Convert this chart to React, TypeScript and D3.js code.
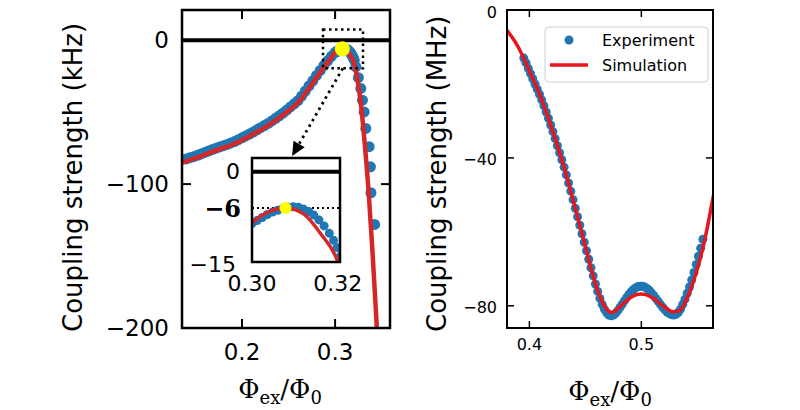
import React from 'react';
import * as d3 from 'd3';

// ---------- Left panel (kHz) ----------
const leftSimPhi = [0.136, 0.15, 0.17, 0.19, 0.21, 0.23, 0.25, 0.26, 0.27, 0.28, 0.29, 0.295, 0.30, 0.304, 0.308, 0.312, 0.316, 0.32, 0.324, 0.328, 0.332, 0.336, 0.340, 0.344, 0.347];
const leftSimG = [-85, -82, -77, -72.5, -66, -58.5, -49, -43.5, -35, -26, -17, -13, -8.5, -6.6, -6, -7, -10.3, -15, -27, -46, -73, -105, -145, -190, -225];

const leftExpPhi = [0.140, 0.144, 0.148, 0.152, 0.156, 0.160, 0.164, 0.168, 0.172, 0.176, 0.180, 0.184, 0.188, 0.192, 0.196, 0.200, 0.204, 0.208, 0.212, 0.216, 0.220, 0.224, 0.228, 0.232, 0.236, 0.240, 0.244, 0.248, 0.252, 0.256, 0.260, 0.264, 0.268, 0.272, 0.276, 0.280, 0.284, 0.288, 0.292, 0.296,
  0.3000, 0.3012, 0.3024, 0.3036, 0.3048, 0.3060, 0.3072, 0.3084, 0.3096, 0.3108, 0.3120, 0.3132, 0.3144, 0.3156, 0.3168, 0.3180, 0.3190, 0.3198, 0.3206,
  0.3223, 0.3250, 0.3276, 0.3294, 0.3312, 0.3330, 0.3366, 0.3380, 0.3385, 0.3425];
const leftExpG = [-82.5, -81.6, -80.9, -80.0, -79.0, -78.0, -77.0, -76.0, -75.0, -74.2, -73.3, -72.4, -71.4, -70.4, -69.1, -67.8, -66.5, -65.2, -63.8, -62.3, -60.8, -59.3, -57.8, -56.1, -54.3, -52.5, -50.6, -48.6, -46.4, -44.2, -42.0, -38.8, -35.3, -31.8, -28.2, -24.5, -21.0, -17.5, -14.3, -11.2,
  -8.6, -8.1, -7.6, -7.1, -6.7, -6.4, -6.1, -5.9, -5.8, -5.9, -6.2, -6.6, -7.2, -8.0, -9.0, -10.2, -11.4, -12.6, -14.0,
  -18.5, -26.0, -33.5, -41.7, -49.8, -61.3, -74.0, -88.0, -106.0, -128.0];

const peakPhi = [0.3078];
const peakG = [-6];
const zoomBoxPhi = [0.287, 0.330];
const zoomBoxG = [7.5, -19.5];
const arrowPhi = [0.3083, 0.2538];
const arrowG = [-19.5, -80.5];

const leftXTicks = [0.2, 0.3];
const leftYTicks = [0, -100, -200];
const insetXTicks = [0.30, 0.32];
const insetYTicks = [0, -6, -15];

// ---------- Right panel (MHz) ----------
const rightSimPhi = [0.380, 0.390, 0.400, 0.410, 0.420, 0.430, 0.440, 0.450, 0.460, 0.468, 0.474, 0.480, 0.490, 0.500, 0.510, 0.520, 0.528, 0.534, 0.540, 0.548, 0.556, 0.5645];
const rightSimG = [-5.5, -10, -16.5, -23.5, -32, -41.5, -52.5, -64, -75, -80.5, -81.8, -80.5, -77.8, -76.8, -77.8, -80.2, -81.6, -81.3, -78.5, -72, -63, -50];

const rightExpPhi = [0.395, 0.397, 0.399, 0.401, 0.403, 0.405, 0.407, 0.409, 0.411, 0.413, 0.415, 0.417, 0.419, 0.421, 0.423, 0.425, 0.427, 0.429, 0.431, 0.433, 0.435, 0.437, 0.439, 0.441, 0.443, 0.445, 0.447, 0.449, 0.451, 0.453, 0.455, 0.457, 0.459, 0.461, 0.463, 0.465, 0.467, 0.469, 0.471, 0.473, 0.475, 0.477, 0.479, 0.481, 0.483, 0.485, 0.487, 0.489, 0.491, 0.493, 0.495, 0.497, 0.499, 0.501, 0.503, 0.505, 0.507, 0.509, 0.511, 0.513, 0.515, 0.517, 0.519, 0.521, 0.523, 0.525, 0.527, 0.529, 0.531, 0.533, 0.535, 0.537, 0.539, 0.541, 0.543, 0.545, 0.547, 0.549, 0.551, 0.553, 0.555];
const rightExpG = [-13.0, -14.3, -15.8, -17.2, -18.6, -20.0, -21.4, -22.8, -24.3, -25.9, -27.6, -29.3, -31.1, -32.9, -34.8, -36.7, -38.6, -40.5, -42.5, -44.6, -46.8, -49.0, -51.3, -53.6, -55.9, -58.2, -60.5, -62.8, -65.1, -67.4, -69.7, -71.9, -74.1, -76.1, -78.0, -79.6, -80.9, -81.9, -82.5, -82.7, -82.5, -82.0, -81.3, -80.4, -79.5, -78.6, -77.7, -76.9, -76.2, -75.6, -75.1, -74.8, -74.7, -74.7, -74.9, -75.3, -75.8, -76.5, -77.2, -78.0, -78.8, -79.6, -80.4, -81.1, -81.7, -82.1, -82.4, -82.5, -82.3, -81.8, -80.9, -79.6, -78.2, -76.6, -74.9, -73.0, -71.0, -68.8, -66.6, -64.4, -62.0];

const rightXTicks = [0.4, 0.5];
const rightYTicks = [0, -40, -80];

const legendLabels = ['Experiment', 'Simulation'];
const yLabelMain = 'Coupling strength';
const yUnitLeft = '(kHz)';
const yUnitRight = '(MHz)';

const BLUE = '#1f77b4';
const RED_L = '#d62728';
const RED_R = '#e8161c';
const SANS = 'DejaVu Sans, sans-serif';
const SERIF = 'DejaVu Serif, serif';

const minus = (s: string) => s.replace('-', '\u2212');

function XLabel({ cx, y }: { cx: number; y: number }) {
  return (
    <text x={cx} y={y} textAnchor="middle" fontFamily={SERIF} fontSize={26} fill="#000">
      <tspan>Φ</tspan>
      <tspan fontSize={18} dy={6}>ex</tspan>
      <tspan dy={-6}>/Φ</tspan>
      <tspan fontSize={18} dy={6}>0</tspan>
    </text>
  );
}

function YLabel({ x, yBottom, unit }: { x: number; yBottom: number; unit: string }) {
  return (
    <g transform={`translate(${x},${yBottom}) rotate(-90)`}>
      <text x={0} y={0} textAnchor="start" fontFamily={SANS} fontSize={26} fill="#000">
        {yLabelMain + ' ' + unit}
      </text>
    </g>
  );
}

export default function App() {
  const xL = d3.scaleLinear().domain([0.1355, 0.359]).range([182, 390]);
  const yL = d3.scaleLinear().domain([-200, 21]).range([328, 10]);
  const xI = d3.scaleLinear().domain([0.300, 0.3205]).range([252, 340]);
  const yI = d3.scaleLinear().domain([-15, 2.3]).range([262, 158]);
  const xR = d3.scaleLinear().domain([0.380, 0.564]).range([507, 713]);
  const yR = d3.scaleLinear().domain([-86, 0]).range([328, 10]);

  const idx = (n: number) => d3.range(n);

  const lineL = d3.line<number>().x(i => xL(leftSimPhi[i])).y(i => yL(leftSimG[i])).curve(d3.curveMonotoneX);
  const lineI = d3.line<number>().x(i => xI(leftSimPhi[i])).y(i => yI(leftSimG[i])).curve(d3.curveMonotoneX);
  const lineR = d3.line<number>().x(i => xR(rightSimPhi[i])).y(i => yR(rightSimG[i])).curve(d3.curveMonotoneX);

  const [lx0, lx1] = xL.range();
  const [ly1, ly0] = yL.range();
  const [ix0, ix1] = xI.range();
  const [iy1, iy0] = yI.range();
  const [rx0, rx1] = xR.range();
  const [ry1, ry0] = yR.range();

  const ax0 = xL(arrowPhi[0]), ay0 = yL(arrowG[0]);
  const ax1 = xL(arrowPhi[1]), ay1 = yL(arrowG[1]);
  const dx = ax1 - ax0, dy = ay1 - ay0;
  const len = Math.hypot(dx, dy);
  const ux = dx / len, uy = dy / len;
  const headL = 14, headW = 6.5;
  const bx = ax1 - ux * headL, by = ay1 - uy * headL;
  const head = `${ax1},${ay1} ${bx - uy * headW},${by + ux * headW} ${bx + uy * headW},${by - ux * headW}`;

  const tickLenL = 9;
  const tickLenR = 7;

  return (
    <svg width={800} height={410} style={{ position: 'absolute', left: 0, top: 0, background: '#fff' }}>
      <defs>
        <clipPath id="clipL"><rect x={lx0} y={ly0} width={lx1 - lx0} height={ly1 - ly0} /></clipPath>
        <clipPath id="clipI"><rect x={ix0} y={iy0} width={ix1 - ix0} height={iy1 - iy0} /></clipPath>
        <clipPath id="clipR"><rect x={rx0} y={ry0} width={rx1 - rx0} height={ry1 - ry0} /></clipPath>
      </defs>
      <rect x={0} y={0} width={800} height={410} fill="#fff" />

      {/* ===== Left panel ===== */}
      <g clipPath="url(#clipL)">
        <line x1={lx0} x2={lx1} y1={yL(0)} y2={yL(0)} stroke="#000" strokeWidth={4} />
        {idx(leftExpPhi.length).map(i => (
          <circle key={i} cx={xL(leftExpPhi[i])} cy={yL(leftExpG[i])} r={5.5} fill={BLUE} />
        ))}
        <path d={lineL(idx(leftSimPhi.length)) || ''} fill="none" stroke={RED_L} strokeWidth={4.5} />
        {idx(peakPhi.length).map(i => (
          <circle key={i} cx={xL(peakPhi[i])} cy={yL(peakG[i])} r={7.5} fill="#ffff00" />
        ))}
      </g>
      <rect x={xL(zoomBoxPhi[0])} y={yL(zoomBoxG[0])} width={xL(zoomBoxPhi[1]) - xL(zoomBoxPhi[0])} height={yL(zoomBoxG[1]) - yL(zoomBoxG[0])}
        fill="none" stroke="#000" strokeWidth={2.5} strokeDasharray="2.5 3.5" />
      <line x1={ax0} y1={ay0} x2={bx} y2={by} stroke="#000" strokeWidth={2.8} strokeDasharray="2.5 4" />
      <polygon points={head} fill="#000" />

      <rect x={lx0} y={ly0} width={lx1 - lx0} height={ly1 - ly0} fill="none" stroke="#000" strokeWidth={2.5} />
      {leftXTicks.map(t => (
        <g key={'lx' + t}>
          <line x1={xL(t)} x2={xL(t)} y1={ly1} y2={ly1 - tickLenL} stroke="#000" strokeWidth={2} />
          <line x1={xL(t)} x2={xL(t)} y1={ly0} y2={ly0 + tickLenL} stroke="#000" strokeWidth={2} />
          <text x={xL(t)} y={352} textAnchor="middle" dominantBaseline="central" fontFamily={SANS} fontSize={23}>{d3.format('.1f')(t)}</text>
        </g>
      ))}
      {leftYTicks.map(t => (
        <g key={'ly' + t}>
          <line x1={lx0} x2={lx0 + tickLenL} y1={yL(t)} y2={yL(t)} stroke="#000" strokeWidth={2} />
          <line x1={lx1} x2={lx1 - tickLenL} y1={yL(t)} y2={yL(t)} stroke="#000" strokeWidth={2} />
          <text x={169} y={yL(t)} textAnchor="end" dominantBaseline="central" fontFamily={SANS} fontSize={23}>{minus(String(t))}</text>
        </g>
      ))}
      <XLabel cx={280} y={398} />

      {/* ===== Inset ===== */}
      <rect x={ix0} y={iy0} width={ix1 - ix0} height={iy1 - iy0} fill="#fff" />
      <g clipPath="url(#clipI)">
        <line x1={ix0} x2={ix1} y1={yI(0)} y2={yI(0)} stroke="#000" strokeWidth={4} />
        <line x1={ix0} x2={ix1} y1={yI(-6)} y2={yI(-6)} stroke="#000" strokeWidth={2} strokeDasharray="2 3" />
        {idx(leftExpPhi.length).map(i => (
          <circle key={i} cx={xI(leftExpPhi[i])} cy={yI(leftExpG[i])} r={4.5} fill={BLUE} />
        ))}
        <path d={lineI(idx(leftSimPhi.length)) || ''} fill="none" stroke={RED_L} strokeWidth={3.5} />
        {idx(peakPhi.length).map(i => (
          <circle key={i} cx={xI(peakPhi[i])} cy={yI(peakG[i])} r={6} fill="#ffff00" />
        ))}
      </g>
      <rect x={ix0} y={iy0} width={ix1 - ix0} height={iy1 - iy0} fill="none" stroke="#000" strokeWidth={2.5} />
      {insetXTicks.map(t => (
        <text key={'ix' + t} x={xI(t)} y={283} textAnchor="middle" dominantBaseline="central" fontFamily={SANS} fontSize={22}>{d3.format('.2f')(t)}</text>
      ))}
      {insetYTicks.map(t => (
        t === -6 ? (
          <text key={'iy' + t} x={241} y={yI(t) + 1} textAnchor="end" dominantBaseline="central" fontFamily={SERIF} fontWeight="bold" fontSize={24}>{minus(String(t))}</text>
        ) : (
          <text key={'iy' + t} x={t === -15 ? 236 : 240} y={t === -15 ? yI(t) + 2 : yI(t)} textAnchor="end" dominantBaseline="central" fontFamily={SANS} fontSize={22}>{minus(String(t))}</text>
        )
      ))}

      {/* ===== Right panel ===== */}
      <g clipPath="url(#clipR)">
        {idx(rightExpPhi.length).map(i => (
          <circle key={i} cx={xR(rightExpPhi[i])} cy={yR(rightExpG[i])} r={4.5} fill={BLUE} />
        ))}
        <path d={lineR(idx(rightSimPhi.length)) || ''} fill="none" stroke={RED_R} strokeWidth={3.5} />
      </g>
      <rect x={rx0} y={ry0} width={rx1 - rx0} height={ry1 - ry0} fill="none" stroke="#000" strokeWidth={2} />
      {rightXTicks.map(t => (
        <g key={'rx' + t}>
          <line x1={xR(t)} x2={xR(t)} y1={ry1} y2={ry1 - tickLenR} stroke="#000" strokeWidth={1.5} />
          <line x1={xR(t)} x2={xR(t)} y1={ry0} y2={ry0 + tickLenR} stroke="#000" strokeWidth={1.5} />
          <text x={xR(t)} y={344} textAnchor="middle" dominantBaseline="central" fontFamily={SANS} fontSize={16}>{d3.format('.1f')(t)}</text>
        </g>
      ))}
      {rightYTicks.map(t => (
        <g key={'ry' + t}>
          <line x1={rx0} x2={rx0 + tickLenR} y1={yR(t)} y2={yR(t)} stroke="#000" strokeWidth={1.5} />
          <line x1={rx1} x2={rx1 - tickLenR} y1={yR(t)} y2={yR(t)} stroke="#000" strokeWidth={1.5} />
          <text x={497} y={yR(t) + 2} textAnchor="end" dominantBaseline="central" fontFamily={SANS} fontSize={16}>{minus(String(t))}</text>
        </g>
      ))}
      <XLabel cx={610} y={400} />

      <rect x={545} y={27} width={163} height={55} rx={4} fill="#fff" fillOpacity={0.85} stroke="#d0d0d0" strokeWidth={1} />
      <circle cx={569} cy={40} r={4.5} fill={BLUE} />
      <line x1={550} x2={588} y1={65} y2={65} stroke={RED_R} strokeWidth={3.5} />
      <text x={602} y={40} dominantBaseline="central" fontFamily={SANS} fontSize={16}>{legendLabels[0]}</text>
      <text x={602} y={65} dominantBaseline="central" fontFamily={SANS} fontSize={16}>{legendLabels[1]}</text>

      {/* axis titles drawn last */}
      <YLabel x={82} yBottom={332} unit={yUnitLeft} />
      <YLabel x={446} yBottom={332} unit={yUnitRight} />
    </svg>
  );
}
